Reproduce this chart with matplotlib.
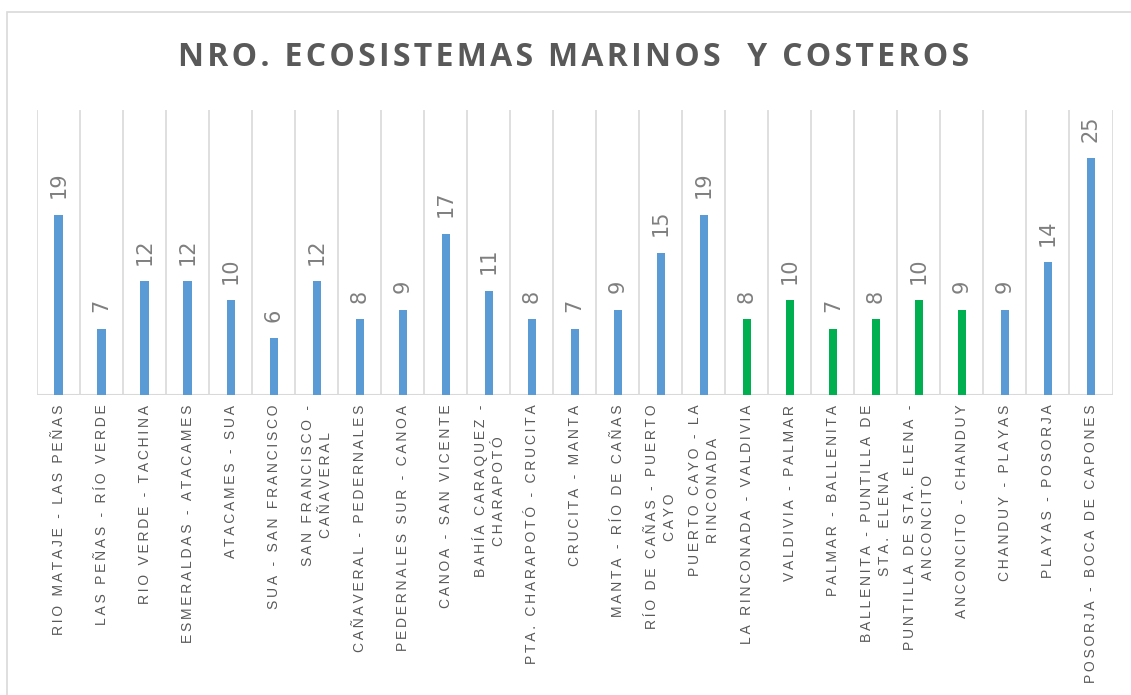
import numpy as np
import matplotlib.pyplot as plt
from matplotlib.patches import Rectangle

tramos = [
    "RIO MATAJE - LAS PEÑAS",
    "LAS PEÑAS - RÍO VERDE",
    "RIO VERDE - TACHINA",
    "ESMERALDAS - ATACAMES",
    "ATACAMES - SUA",
    "SUA - SAN FRANCISCO",
    "SAN FRANCISCO -\nCAÑAVERAL",
    "CAÑAVERAL - PEDERNALES",
    "PEDERNALES SUR - CANOA",
    "CANOA - SAN VICENTE",
    "BAHÍA CARAQUEZ -\nCHARAPOTÓ",
    "PTA. CHARAPOTÓ - CRUCITA",
    "CRUCITA - MANTA",
    "MANTA - RÍO DE CAÑAS",
    "RÍO DE CAÑAS - PUERTO\nCAYO",
    "PUERTO CAYO - LA\nRINCONADA",
    "LA RINCONADA - VALDIVIA",
    "VALDIVIA - PALMAR",
    "PALMAR - BALLENITA",
    "BALLENITA - PUNTILLA DE\nSTA. ELENA",
    "PUNTILLA DE STA. ELENA -\nANCONCITO",
    "ANCONCITO - CHANDUY",
    "CHANDUY - PLAYAS",
    "PLAYAS - POSORJA",
    "POSORJA - BOCA DE CAPONES",
]
ecosistemas = [19, 7, 12, 12, 10, 6, 12, 8, 9, 17, 11, 8, 7, 9, 15, 19,
               8, 10, 7, 8, 10, 9, 9, 14, 25]
# tramos de la provincia de Santa Elena en verde
santa_elena = [16, 17, 18, 19, 20, 21]

AZUL = "#5B9BD5"
VERDE = "#00B050"
colores = [VERDE if i in santa_elena else AZUL for i in range(len(tramos))]


def espaciar(txt, sep="\u2009"):
    # imitar el espaciado de caracteres de Excel
    return "\n".join(sep.join(linea) for linea in txt.split("\n"))


fig = plt.figure(figsize=(11.31, 6.95), dpi=100)
W, H = 1131, 695
ax = fig.add_axes([37 / W, 1 - 395 / H, (1112.5 - 37) / W, (395 - 110) / H])

x = np.arange(len(tramos))
ax.bar(x, ecosistemas, width=0.19, color=colores, zorder=3)

ax.set_xlim(-0.5, len(tramos) - 0.5)
ax.set_ylim(0, 30.1)

# lineas verticales entre categorias
for b in np.arange(-0.5, len(tramos), 1.0):
    ax.axvline(b, color="#D9D9D9", lw=1.2, zorder=1)
ax.axhline(0, color="#D9D9D9", lw=1.5, zorder=2)

for s in ax.spines.values():
    s.set_visible(False)
ax.set_yticks([])
ax.set_xticks(x)
ax.set_xticklabels([])
ax.tick_params(axis="x", length=0)

for xi, lab in zip(x, tramos):
    ax.annotate(espaciar(lab), xy=(xi, 0), xytext=(0, -7),
                textcoords="offset points", rotation=90, ha="center",
                va="top", multialignment="center", fontsize=10,
                family=["Liberation Sans", "DejaVu Sans"], color="#595959",
                linespacing=1.35, annotation_clip=False)

for xi, v in zip(x, ecosistemas):
    ax.annotate(str(v), xy=(xi, v), xytext=(0, 12),
                textcoords="offset points", rotation=90, ha="center",
                va="bottom", fontsize=15, color="#7F7F7F")

fig.text(574 / W, 1 - 58 / H,
         espaciar("NRO. ECOSISTEMAS MARINOS  Y COSTEROS", "\u200a"),
         ha="center", va="center", fontsize=23, fontweight="bold",
         family=["Open Sans", "DejaVu Sans"], color="#595959")

fig.patches.append(Rectangle((7 / W, -0.1), 1.2, 1.1 - 12 / H,
                             transform=fig.transFigure, fill=False,
                             edgecolor="#D9D9D9", lw=1.2))

fig.savefig("out.png", dpi=100)
